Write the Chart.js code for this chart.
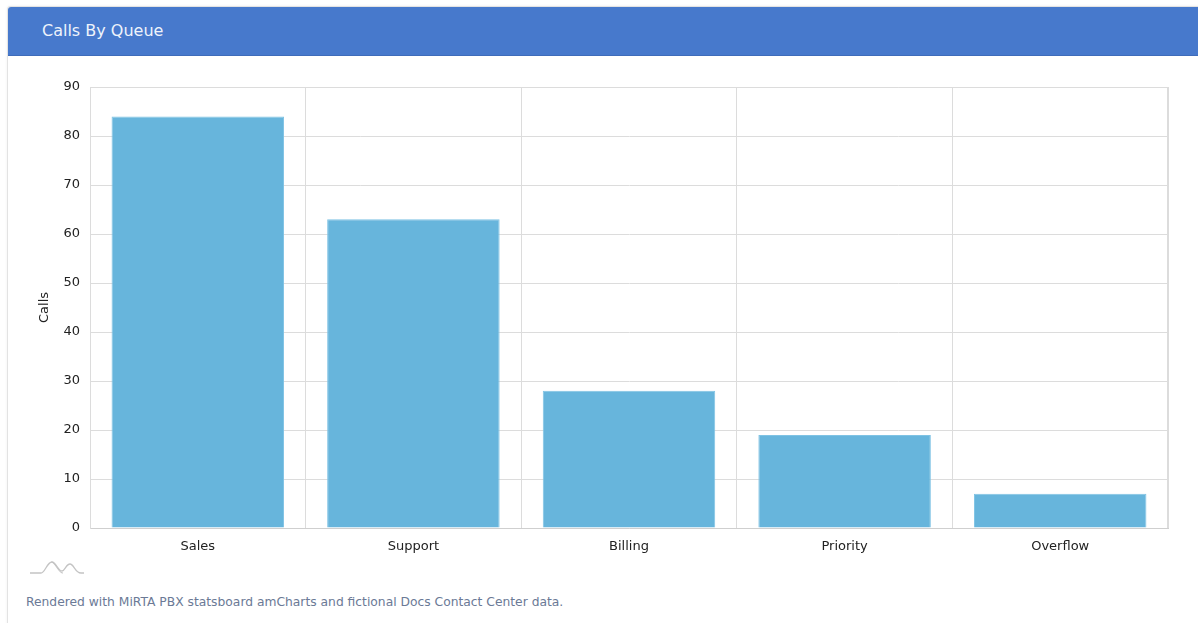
<!DOCTYPE html>
<html>
<head>
<meta charset="utf-8">
<script src="https://cdn.jsdelivr.net/npm/chart.js@4/dist/chart.umd.min.js"></script>
<style>
  html, body { margin: 0; padding: 0; background: #fff; overflow: hidden; }
  body { width: 1198px; height: 623px; position: relative; font-family: "DejaVu Sans", sans-serif; }
  .card {
    position: absolute; left: 7px; top: 6px; width: 1220px; height: 640px;
    border: 1px solid #e3e3e3; border-radius: 3px; background: #fff;
    box-shadow: 0 0 3px rgba(0,0,0,0.06);
  }
  .card-head {
    height: 48px; background: #4779cc; border-radius: 3px 3px 0 0;
    color: #eef3fb; font-size: 16px; line-height: 48px; padding-left: 34px;
    border-bottom: 1px solid #3f6cba;
  }
  .chart-box { position: absolute; left: 0; top: 61px; width: 1198px; height: 500px; }
  .logo { position: absolute; left: 29px; top: 559px; }
  .foot { position: absolute; left: 26px; top: 595px; font-size: 12.3px; color: #6b7a96; }
</style>
</head>
<body>
<div class="card"><div class="card-head">Calls By Queue</div></div>
<div class="chart-box"><canvas id="chart" width="1198" height="500"></canvas></div>
<svg class="logo" width="56" height="16" viewBox="0 0 56 16">
  <path d="M1 14 L12 14 C16 14 18 3 23 3 C27 3 29 12 33 12 C36 12 37 5 41 5 C45 5 46 14 52 14 L55 14" fill="none" stroke="#c4c4c4" stroke-width="1.3"/>
  <path d="M22 3 C27 3 29 14 34 14" fill="none" stroke="#c4c4c4" stroke-width="1.2"/>
</svg>
<div class="foot">Rendered with MiRTA PBX statsboard amCharts and fictional Docs Contact Center data.</div>

<script>
// ======= Data =======
const queues = ["Sales", "Support", "Billing", "Priority", "Overflow"];
const calls  = [84, 63, 28, 19, 7];
const yTicksMax = 90;

const tickFont = { family: "DejaVu Sans", size: 13 };
const gridColor = "#dcdcdc";

new Chart(document.getElementById("chart"), {
  type: "bar",
  data: {
    labels: queues,
    datasets: [{
      label: "Calls",
      data: calls,
      backgroundColor: "#67b5dc",
      borderColor: "#7fc3e4",
      borderWidth: 1,
      categoryPercentage: 0.8,
      barPercentage: 1
    }]
  },
  options: {
    responsive: false,
    animation: false,
    devicePixelRatio: 1,
    layout: { padding: { top: 26, right: 30, left: 0, bottom: 0 } },
    plugins: { legend: { display: false }, tooltip: { enabled: false } },
    scales: {
      x: {
        grid: { color: gridColor, drawTicks: false, offset: true },
        border: { color: "#cfcfcf" },
        ticks: { color: "#222", font: tickFont, padding: 11, maxRotation: 0 },
        afterFit: (s) => { s.height = 33; }
      },
      y: {
        min: 0, max: yTicksMax,
        grid: { color: gridColor, drawTicks: false },
        border: { color: "#dcdcdc" },
        ticks: { stepSize: 10, color: "#222", font: tickFont, padding: 10 },
        title: { display: true, text: "Calls", color: "#222", font: tickFont, padding: { top: 37, bottom: 0 } },
        afterFit: (s) => { s.width = 90; }
      }
    }
  },
  plugins: [{
    id: "rightTopBorder",
    afterDraw(chart) {
      const { ctx, chartArea: a } = chart;
      ctx.save();
      ctx.strokeStyle = gridColor;
      ctx.lineWidth = 1;
      ctx.beginPath();
      ctx.moveTo(a.left, a.top + 0.5); ctx.lineTo(a.right, a.top + 0.5);
      ctx.moveTo(a.right - 0.5, a.top); ctx.lineTo(a.right - 0.5, a.bottom);
      ctx.stroke();
      ctx.restore();
    }
  }]
});
</script>
</body>
</html>
